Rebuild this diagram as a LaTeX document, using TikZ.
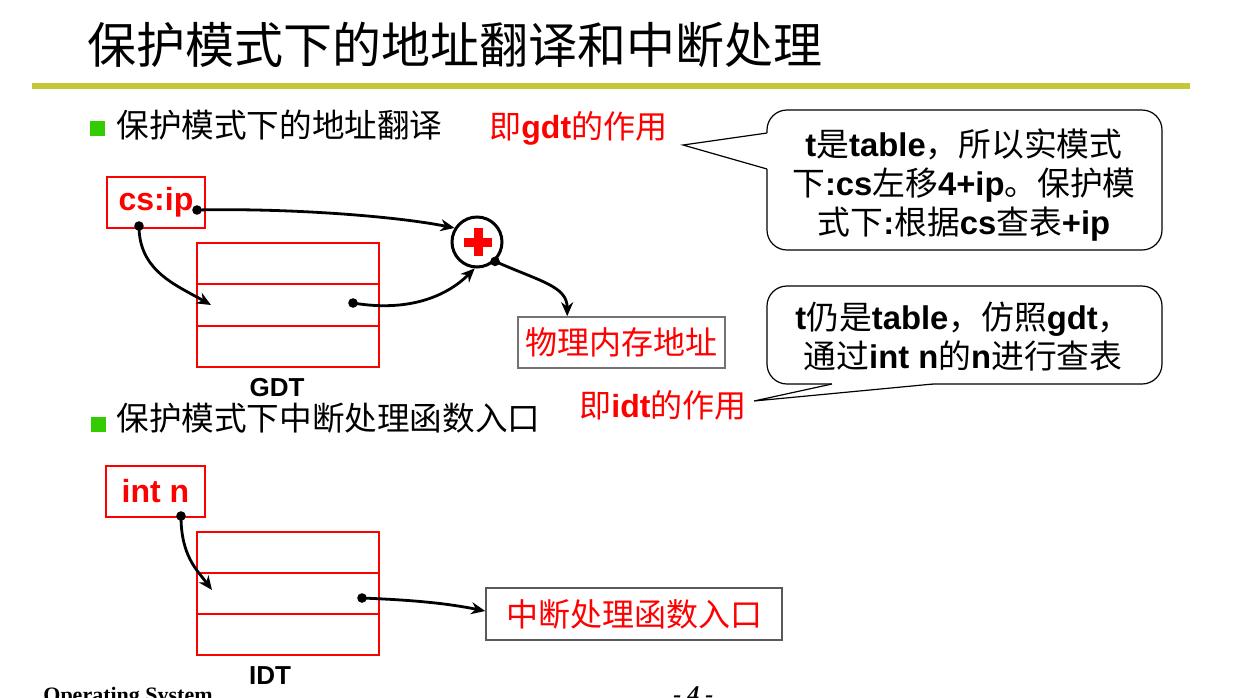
\documentclass[tikz,border=0pt]{standalone}
\usepackage{fontspec}
\setmainfont{Liberation Sans}
\newfontfamily\cjk{Noto Sans CJK SC}
\newfontfamily\serifb{Liberation Serif}
\usetikzlibrary{arrows.meta,calc}
\definecolor{rulecol}{RGB}{196,200,56}
\definecolor{bulletcol}{RGB}{51,204,0}
\newcommand{\C}[1]{{\cjk #1}}
\newcommand{\B}[1]{\textbf{#1}}
\tikzset{
  conn/.style={line width=1.4pt, -{Stealth[length=7pt,width=6pt]}},
  dotnode/.style={circle, fill=black, inner sep=0pt, minimum size=4.8pt},
  tbl/.style={draw=red, line width=0.7pt, inner sep=0pt},
  redbox/.style={draw=red, line width=0.6pt, text=red, inner sep=0pt},
  graybox/.style={draw=black!55, line width=0.8pt, text=red, inner sep=0pt},
  callout/.style={draw=black, line width=0.6pt, rounded corners=10pt, fill=white, inner sep=0pt, align=center, font=\fontsize{16.4}{19.5}\selectfont},
  bulletsq/.style={fill=bulletcol, minimum size=7.5pt, inner sep=0pt},
  bullettext/.style={anchor=west, inner sep=0pt, font=\cjk\fontsize{16.3}{19}\selectfont},
  redlabel/.style={anchor=west, inner sep=0pt, text=red, font=\fontsize{16}{19}\selectfont},
  tbllabel/.style={font=\bfseries\fontsize{13}{15}\selectfont, inner sep=0pt},
}
\begin{document}
\begin{tikzpicture}[x=0.5pt,y=-0.5pt]
\useasboundingbox (0,0) rectangle (1241,697);
\fill[white] (0,0) rectangle (1241,697);
\clip (0,0) rectangle (1241,697);
% title
\node[anchor=west, inner sep=0pt, font=\cjk\fontsize{24.5}{28}\selectfont] (title) at (87,45) {保护模式下的地址翻译和中断处理};
\coordinate (rl) at (32,86); \coordinate (rr) at (1190,86);
\draw[rulecol, line width=3pt] (rl) -- (rr);
% bullets
\node[bulletsq] (b1) at (97.5,128.5) {};
\node[bullettext] (t1) at (116,125) {保护模式下的地址翻译};
\node[bulletsq] (b2) at (98,424.5) {};
\node[bullettext] (t2) at (116,418) {保护模式下中断处理函数入口};
% red labels
\node[redlabel] (lg) at (489,128) {\C{即}\B{gdt}\C{的作用}};
\node[redlabel] (li) at (579,405) {\C{即}\B{idt}\C{的作用}};
% callouts
\node[callout, minimum width=197.5pt, minimum height=70pt] (call1) at (964.5,180) {};
\node[align=center, inner sep=0pt, font=\fontsize{16.4}{19.5}\selectfont] (call1text) at (964,185)
  {\B{t}\C{是}\B{table}\C{，所以实模式}\\ \C{下}\B{:cs}\C{左移}\B{4+ip}\C{。保护模}\\ \C{式下}\B{:}\C{根据}\B{cs}\C{查表}\B{+ip}};
\coordinate (p1t) at (683,145);
\coordinate (p1a) at (767,133);
\coordinate (p1b) at (767,169);
\fill[white] (p1t) -- (p1a) -- ++(2,0) -- (769,169) -- (p1b) -- cycle;
\draw[line width=0.6pt, line join=miter] (p1a) -- (p1t) -- (p1b);
\node[callout, minimum width=197.5pt, minimum height=49pt] (call2) at (964.5,335) {};
\node[align=center, inner sep=0pt, font=\fontsize{16.4}{19.5}\selectfont] (call2text) at (963,337)
  {\B{t}\C{仍是}\B{table}\C{，仿照}\B{gdt}\C{，}\\ \C{通过}\B{int n}\C{的}\B{n}\C{进行查表}};
\coordinate (p2t) at (754,401);
\coordinate (p2a) at (832,384);
\coordinate (p2b) at (933,384);
\fill[white] (p2t) -- (p2a) -- (832,382) -- (933,382) -- (p2b) -- cycle;
\draw[line width=0.6pt, line join=miter] (p2a) -- (p2t) -- (p2b);
% cs:ip box
\node[redbox, minimum width=49pt, minimum height=25.5pt, font=\bfseries\fontsize{16}{19}\selectfont] (csip) at (156,202.5) {cs:ip};
% GDT table
\node[tbl, minimum width=91pt, minimum height=62pt] (gdt) at (288,305) {};
\draw[red, line width=0.8pt] ($(gdt.north west)!1/3!(gdt.south west)$) -- ($(gdt.north east)!1/3!(gdt.south east)$);
\draw[red, line width=0.8pt] ($(gdt.north west)!2/3!(gdt.south west)$) -- ($(gdt.north east)!2/3!(gdt.south east)$);
\node[tbllabel] (gdtl) at (277,388) {GDT};
% plus circle
\node[circle, draw=black, line width=1.5pt, minimum size=25pt, inner sep=0pt] (plus) at (477,242) {};
\fill[red] (464,237.5) rectangle (492,246.5);
\fill[red] (473.5,228) rectangle (482.5,256);
% physical address box
\node[graybox, minimum width=103.5pt, minimum height=25.5pt, font=\cjk\fontsize{16}{19}\selectfont] (phys) at (621.5,342.5) {物理内存地址};
% int n box
\node[redbox, minimum width=49.5pt, minimum height=25.5pt, font=\bfseries\fontsize{16}{19}\selectfont] (intn) at (155.5,491.5) {int n};
% IDT table
\node[tbl, minimum width=91pt, minimum height=61.5pt] (idt) at (288,593.5) {};
\draw[red, line width=0.8pt] ($(idt.north west)!1/3!(idt.south west)$) -- ($(idt.north east)!1/3!(idt.south east)$);
\draw[red, line width=0.8pt] ($(idt.north west)!2/3!(idt.south west)$) -- ($(idt.north east)!2/3!(idt.south east)$);
\node[tbllabel] (idtl) at (270,676) {IDT};
% entry box
\node[graybox, draw=black!65, minimum width=148pt, minimum height=26pt, font=\cjk\fontsize{16}{19}\selectfont] (entry) at (634,614) {中断处理函数入口};
% dot positions and targets
\coordinate (d1) at (197,210);
\coordinate (d2) at (139,226);
\coordinate (d3) at (353,303);
\coordinate (d4) at (plus.-47);
\coordinate (d5) at (181,516);
\coordinate (d6) at (362,598);
\coordinate (g1) at (211,305);
\coordinate (i1) at (212,590);
\coordinate (phystop) at ($(phys.north west)+(50,0)$);
\coordinate (entryin) at ($(entry.west)+(0,-3)$);
% connectors
\draw[conn] (d1) .. controls +(90,-2) and +(-60,-12) .. (plus.148);
\draw[conn] (d2) .. controls +(0,45) and +(-35,-20) .. (g1);
\draw[conn] (d3) .. controls +(60,10) and +(-25,25) .. (plus.-95);
\draw[conn] (d4) .. controls +(45,20) and +(0,-30) .. (phystop);
\draw[conn] (d5) .. controls +(0,40) and +(-15,-20) .. (i1);
\draw[conn] (d6) .. controls +(50,2) and +(-40,-8) .. (entryin);
\foreach \d in {d1,d2,d3,d4,d5,d6} \node[dotnode] at (\d) {};
% footer
\node[anchor=base west, inner sep=0pt, font=\serifb\bfseries\fontsize{11}{13}\selectfont] (os) at (43,702) {Operating System};
\node[anchor=base west, inner sep=0pt, font=\serifb\bfseries\itshape\fontsize{12}{14}\selectfont] (pg) at (673,702) {- 4 -};
\end{tikzpicture}
\end{document}
